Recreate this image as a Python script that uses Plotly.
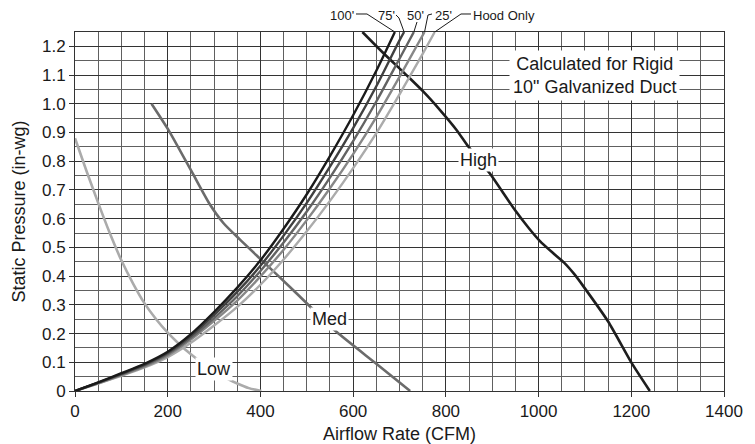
import plotly.graph_objects as go

# ---- data ----
duct_cfm_100 = [0, 50, 100, 150, 200, 250, 300, 350, 400, 450, 500, 550, 600, 650, 690]
duct_p_100 = [0, 0.030, 0.062, 0.095, 0.137, 0.198, 0.275, 0.360, 0.455, 0.565, 0.685, 0.818, 0.960, 1.115, 1.25]
duct_cfm_75 = [0, 50, 100, 150, 200, 250, 300, 350, 400, 450, 500, 550, 600, 650, 700, 710]
duct_p_75 = [0, 0.029, 0.060, 0.092, 0.133, 0.192, 0.265, 0.345, 0.436, 0.541, 0.655, 0.781, 0.915, 1.061, 1.221, 1.25]
duct_cfm_50 = [0, 50, 100, 150, 200, 250, 300, 350, 400, 450, 500, 550, 600, 650, 700, 731]
duct_p_50 = [0, 0.028, 0.058, 0.089, 0.129, 0.185, 0.254, 0.330, 0.418, 0.517, 0.625, 0.743, 0.870, 1.008, 1.157, 1.25]
duct_cfm_25 = [0, 50, 100, 150, 200, 250, 300, 350, 400, 450, 500, 550, 600, 650, 700, 754]
duct_p_25 = [0, 0.027, 0.055, 0.085, 0.124, 0.179, 0.244, 0.315, 0.399, 0.492, 0.595, 0.706, 0.825, 0.954, 1.094, 1.25]
duct_cfm_hood = [0, 50, 100, 150, 200, 250, 300, 350, 400, 450, 500, 550, 600, 650, 700, 750, 776]
duct_p_hood = [0, 0.026, 0.053, 0.082, 0.118, 0.168, 0.228, 0.293, 0.370, 0.458, 0.556, 0.662, 0.776, 0.898, 1.033, 1.174, 1.25]

high_cfm = [620, 665, 715, 751, 787, 823, 848, 871, 895, 949, 980, 1003, 1030, 1055, 1078, 1096, 1150, 1201, 1240]
high_p = [1.25, 1.177, 1.10, 1.043, 0.979, 0.909, 0.852, 0.805, 0.757, 0.63, 0.565, 0.522, 0.482, 0.447, 0.405, 0.366, 0.242, 0.097, 0]
med_cfm = [165, 203, 253, 290, 320, 356, 403, 471, 564, 650, 723]
med_p = [1.0, 0.905, 0.76, 0.652, 0.585, 0.527, 0.455, 0.351, 0.206, 0.095, 0]
low_cfm = [0, 25, 50, 75, 100, 125, 150, 175, 200, 225, 250, 275, 300, 325, 350, 375, 402]
low_p = [0.88, 0.765, 0.655, 0.55, 0.455, 0.375, 0.305, 0.25, 0.203, 0.163, 0.128, 0.097, 0.07, 0.046, 0.026, 0.01, 0]

x_ticks = [0, 200, 400, 600, 800, 1000, 1200, 1400]
y_ticks = [0, 0.1, 0.2, 0.3, 0.4, 0.5, 0.6, 0.7, 0.8, 0.9, 1.0, 1.1, 1.2]
y_tick_text = ["0", "0.1", "0.2", "0.3", "0.4", "0.5", "0.6", "0.7", "0.8", "0.9", "1.0", "1.1", "1.2"]

duct_names = ["100'", "75'", "50'", "25'", "Hood Only"]
fan_names = ["High", "Med", "Low"]

X_MAX = 1400
Y_MAX = 1.25

FONT = "Liberation Sans, Arial, Helvetica, sans-serif"
# the page body adds an 8px offset; size the figure so the plot area lands where the reference has it
OFF = 8
W, H = 747, 436
PL, PR, PT, PB = 75, 724, 32, 391          # plot area in window pixels
ML, MT = PL - OFF, PT - OFF
MR = (W + OFF) - PR
MB = (H + OFF) - PB
PW, PH = PR - PL, PB - PT

fig = go.Figure()

fan_series = [(low_cfm, low_p, "#ababab"), (med_cfm, med_p, "#6b6b6b"), (high_cfm, high_p, "#1e1e1e")]
for (xs, ys, col), nm in zip(fan_series, ["Low", "Med", "High"]):
    fig.add_trace(go.Scatter(x=xs, y=ys, mode="lines", name=nm,
                             line=dict(color=col, width=2.6, shape="spline", smoothing=0.6),
                             showlegend=False, hoverinfo="skip"))

duct_series = [
    (duct_cfm_hood, duct_p_hood, "#ababab"),
    (duct_cfm_25, duct_p_25, "#878787"),
    (duct_cfm_50, duct_p_50, "#636363"),
    (duct_cfm_75, duct_p_75, "#404040"),
    (duct_cfm_100, duct_p_100, "#1a1a1a"),
]
for (xs, ys, col), nm in zip(duct_series, duct_names[::-1]):
    fig.add_trace(go.Scatter(x=xs, y=ys, mode="lines", name=nm,
                             line=dict(color=col, width=2.4, shape="spline", smoothing=0.8),
                             showlegend=False, hoverinfo="skip"))

# ---- curve labels ----
label_font = dict(family=FONT, size=18, color="#1a1a1a")
for txt, x, y in [("High", 871, 0.806), ("Med", 548, 0.25), ("Low", 300, 0.075)]:
    fig.add_annotation(x=x, y=y, text=txt, showarrow=False, font=label_font,
                       bgcolor="white", borderpad=1)

fig.add_annotation(x=1120, y=1.1, text="Calculated for Rigid<br>10\" Galvanized Duct",
                   showarrow=False, font=label_font, bgcolor="white", borderpad=3)

# ---- leader labels above the plot ----
def px2paper(px, py):
    return (px - PL) / PW, (PB - py) / PH

ends = [duct_cfm_100[-1], duct_cfm_75[-1], duct_cfm_50[-1], duct_cfm_25[-1], duct_cfm_hood[-1]]
end_px = [PL + e / X_MAX * PW for e in ends]
text_px = [342, 386, 415, 444, 504]
leaders = [
    [(356, 14), (367, 14)],
    [(396, 15), (399, 18)],
    [(417, 22)],
    [(432, 14), (428, 15)],
    [(471, 14), (461, 14)],
]
for name, tx, pts, ex in zip(duct_names, text_px, leaders, end_px):
    xp, yp = px2paper(tx, 15)
    fig.add_annotation(x=xp, y=yp, xref="paper", yref="paper", text=name, showarrow=False,
                       font=dict(family=FONT, size=13, color="#1a1a1a"), xanchor="center", yanchor="middle")
    allpts = pts + [(ex, PT)]
    path = ""
    for i, (px, py) in enumerate(allpts):
        a, b = px2paper(px, py)
        path += ("M" if i == 0 else " L") + f" {a:.5f} {b:.5f}"
    fig.add_shape(type="path", path=path, xref="paper", yref="paper",
                  line=dict(color="#1a1a1a", width=1))

grid_major = "#333333"
grid_minor = "#606060"

fig.update_xaxes(range=[0, X_MAX], tickvals=x_ticks, ticks="outside", ticklen=5, tickcolor="#333",
                 showgrid=True, gridcolor=grid_major, gridwidth=1,
                 minor=dict(dtick=50, showgrid=True, gridcolor=grid_minor, gridwidth=1),
                 showline=True, linecolor="#333", linewidth=1, mirror=True,
                 zeroline=False, automargin=False,
                 tickfont=dict(family=FONT, size=17, color="#1a1a1a"),
                 title=dict(text="Airflow Rate (CFM)", font=dict(family=FONT, size=18, color="#1a1a1a"), standoff=7))
fig.update_yaxes(range=[0, Y_MAX], tickvals=y_ticks, ticktext=y_tick_text, ticks="outside", ticklen=5,
                 tickcolor="#333",
                 showgrid=True, gridcolor=grid_major, gridwidth=1,
                 minor=dict(dtick=0.05, showgrid=True, gridcolor=grid_minor, gridwidth=1),
                 showline=True, linecolor="#333", linewidth=1, mirror=True,
                 zeroline=False, automargin=False,
                 tickfont=dict(family=FONT, size=17, color="#1a1a1a"),
                 title=dict(text="Static Pressure (in-wg)", font=dict(family=FONT, size=18, color="#1a1a1a"), standoff=11))

fig.update_layout(width=W, height=H, margin=dict(l=ML, r=MR, t=MT, b=MB, pad=0),
                  paper_bgcolor="white", plot_bgcolor="white", showlegend=False)

fig.write_html("out.html")
